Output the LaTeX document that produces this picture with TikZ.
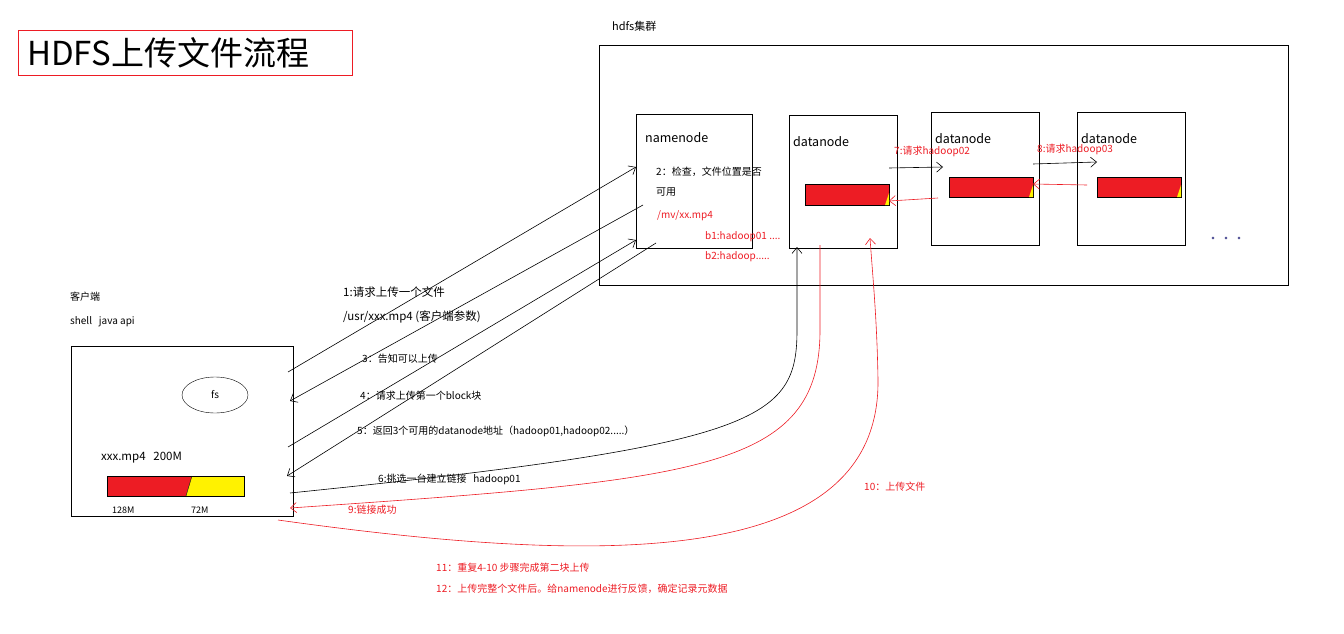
\documentclass[tikz,border=0pt]{standalone}
\usepackage{fontspec}
\setmainfont{Noto Sans CJK SC}
\usetikzlibrary{arrows.meta,shapes.geometric}
\definecolor{pr}{HTML}{ED1C24}
\definecolor{py}{HTML}{FFF200}
\begin{document}
\begin{tikzpicture}[x=1pt,y=-1pt,
  t/.style={anchor=west,inner sep=0pt,font=\fontsize{10}{12}\selectfont},
  tr/.style={t,text=pr},
  big/.style={anchor=west,inner sep=0pt,font=\fontsize{12.5}{14}\selectfont},
  box/.style={draw,line width=0.8pt},
  ar/.style={-{Straight Barb[length=6pt,width=10pt]},line width=0.6pt},
  rar/.style={ar,pr}]
\useasboundingbox (0,0) rectangle (1344,634);
% title
\draw[pr,line width=0.8pt] (18,30) rectangle (352,75);
\node[anchor=west,inner sep=0pt,font=\fontsize{33}{36}\selectfont] (title) at (27,53) {HDFS上传文件流程};
% cluster
\node[big,font=\fontsize{11}{13}\selectfont] (hc) at (612,26) {hdfs集群};
\draw[box] (599,45) rectangle (1288,285);
% namenode
\draw[box] (636,114) rectangle (752,248);
\coordinate (nn1) at (636,167); \coordinate (nn3) at (643,205);
\coordinate (nn4) at (636,240); \coordinate (nn5) at (656,243);
\node[big] (nnt) at (645,138) {namenode};
\node[t] (chk) at (656,172) {2：检查，文件位置是否};
\node[t] (ky) at (656,192) {可用};
\node[tr] (mv) at (657,216) {/mv/xx.mp4};
\node[tr] (b1) at (705,237) {b1:hadoop01 ....};
\node[tr] (b2) at (705,257) {b2:hadoop.....};
% datanodes
\draw[box] (789,115) rectangle (897,248);
\node[big] (d1) at (793,142) {datanode};
\fill[pr] (805,184) rectangle (889,205); \draw (805,184) rectangle (889,205);
\fill[py] (889,193) -- (889,205) -- (885,205) -- cycle;
\draw[box] (931,112) rectangle (1039,245);
\node[big] (d2) at (935,139) {datanode};
\fill[pr] (949,177) rectangle (1033,197); \draw (949,177) rectangle (1033,197);
\fill[py] (1033,185) -- (1033,197) -- (1029,197) -- cycle;
\draw[box] (1077,112) rectangle (1185,245);
\node[big] (d3) at (1081,139) {datanode};
\fill[pr] (1097,177) rectangle (1181,197); \draw (1097,177) rectangle (1181,197);
\fill[py] (1181,185) -- (1181,197) -- (1177,197) -- cycle;
\foreach \x in {1213,1226,1239} \draw[blue!40!black] (\x,238) circle (1.2);
\node[tr] (l7) at (894,151) {7:请求hadoop02};
\draw[ar] (889,168) -- (943,167);
\draw[rar] (938,198) -- (889,201);
\node[tr] (l8) at (1037,149) {8:请求hadoop03};
\draw[ar] (1033,164) -- (1097,162);
\draw[rar] (1087,185) -- (1033,184);
% client
\node[t] (kh) at (70,297) {客户端};
\node[t] (sh) at (70,322) {shell \ \ java api};
\draw[box] (71,346) rectangle (293,516);
\node[draw,ellipse,minimum width=66,minimum height=36,inner sep=0pt,font=\fontsize{10}{12}\selectfont] (fs) at (215,395) {fs};
\node[big,font=\fontsize{11.5}{13}\selectfont] (xf) at (101,458) {xxx.mp4 \ \ 200M};
\fill[pr] (107,476) -- (192,476) -- (186,496) -- (107,496) -- cycle;
\fill[py] (192,476) -- (244,476) -- (244,496) -- (186,496) -- cycle;
\draw (107,476) rectangle (244,496); \draw (192,476) -- (186,496);
\node[t,font=\fontsize{9}{11}\selectfont] (m1) at (112,510) {128M};
\node[t,font=\fontsize{9}{11}\selectfont] (m2) at (191,510) {72M};
\coordinate (c1) at (288,372); \coordinate (c3) at (290,401);
\coordinate (c4) at (288,447); \coordinate (c5) at (287,476);
\coordinate (c6) at (290,493); \coordinate (c9) at (290,508);
\coordinate (c10) at (278,520);
% arrows
\draw[ar] (c1) -- (nn1);
\draw[ar] (nn3) -- (c3);
\draw[ar] (c4) -- (nn4);
\draw[ar] (nn5) -- (c5);
\draw[ar] (c6) .. controls (760,445) and (797,420) .. (797,330) -- (797,247);
\draw[rar] (820,245) -- (820,330) .. controls (820,470) and (700,480) .. (c9);
\draw[rar] (c10) .. controls (600,565) and (880,570) .. (878,380) .. controls (877,320) and (873,280) .. (870,238);
% labels
\node[big,font=\fontsize{11.5}{13}\selectfont] (l1) at (343,292) {1:请求上传一个文件};
\node[big,font=\fontsize{11.5}{13}\selectfont] (l1b) at (343,317) {/usr/xxx.mp4 (客户端参数)};
\node[t] (l3) at (362,359) {3：告知可以上传};
\node[t] (l4) at (360,396) {4：请求上传第一个block块};
\node[t] (l5) at (357,431) {5：返回3个可用的datanode地址（hadoop01,hadoop02.....）};
\node[t] (l6) at (378,479) {6:挑选一台建立链接 \ \ hadoop01};
\node[tr] (l9) at (348,510) {9:链接成功};
\node[tr] (l10) at (864,487) {10：上传文件};
\node[tr] (l11) at (436,568) {11：重复4-10 步骤完成第二块上传};
\node[tr] (l12) at (436,589) {12：上传完整个文件后。给namenode进行反馈，确定记录元数据};
\end{tikzpicture}
\end{document}
